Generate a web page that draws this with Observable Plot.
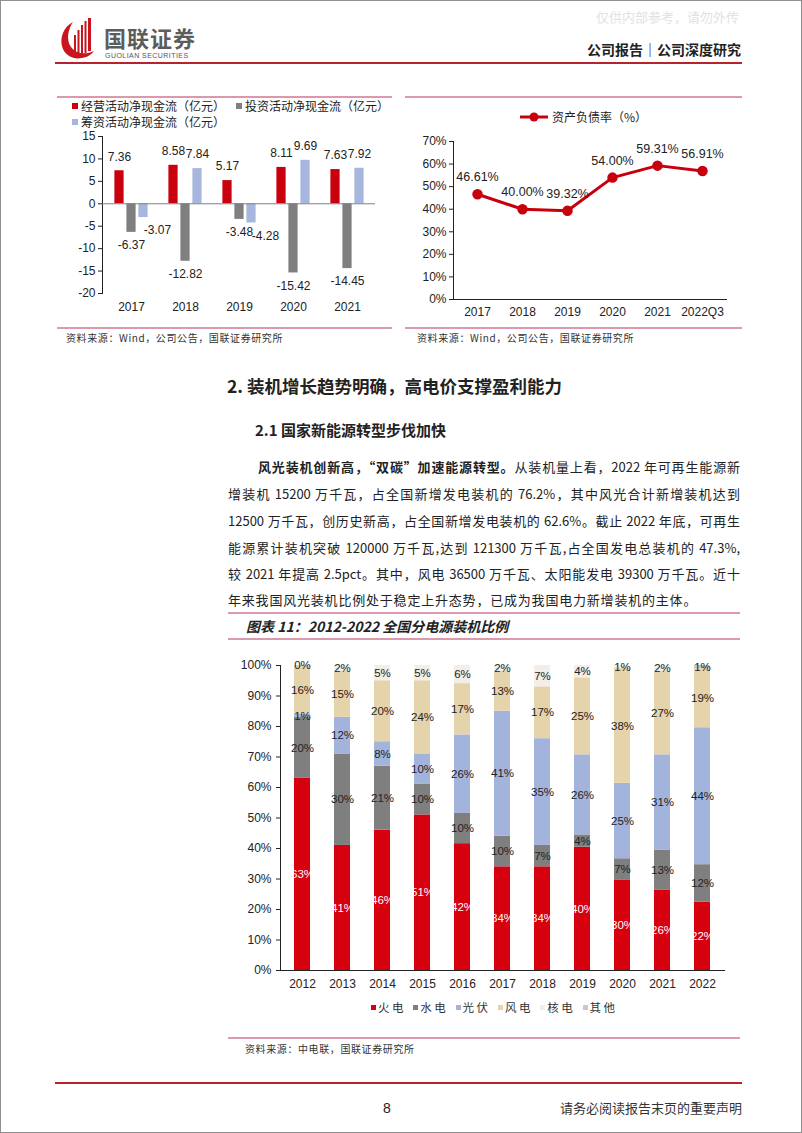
<!DOCTYPE html>
<html>
<head>
<meta charset="utf-8">
<script src="https://cdn.jsdelivr.net/npm/d3@7"></script>
<script src="https://cdn.jsdelivr.net/npm/@observablehq/plot@0.6"></script>
<style>
  html, body { margin: 0; padding: 0; background: #fff; }
  #page { position: relative; width: 802px; height: 1133px; overflow: hidden; font-family: "Noto Sans CJK SC", sans-serif; color: #222; }
  .abs { position: absolute; white-space: nowrap; line-height: 1; }
  .hline { position: absolute; height: 1.5px; }
  .pink { background: #dc98ad; }
  .red { background: #b8232b; height: 2px; }
  .src { font-size: 10px; color: #333; letter-spacing: 0.6px; }
  .para { position: absolute; font-size: 13px; line-height: 1; color: #222; text-align: justify; text-align-last: justify; }
  .leg { position: absolute; font-size: 12px; line-height: 1; display: flex; align-items: center; white-space: nowrap; color: #222; }
  .sw { display: inline-block; width: 6px; height: 6px; margin-right: 3px; }
  svg.plot { position: absolute; overflow: visible; }
</style>
</head>
<body>
<div id="page">
  <div style="position:absolute;left:0;top:0;width:800px;height:1131px;border:1px solid #8f8f8f;"></div>

  <div class="abs" style="left:596px;top:10px;font-size:13px;color:#e2e2e2;">仅供内部参考，请勿外传</div>

  <svg style="position:absolute;left:60px;top:18px;" width="36" height="42" viewBox="0 0 36 42">
    <path d="M13 4 C3 9 0 20 2 28 C4 37 13 42 22 40 C28 39 32 36 34 33 C26 37 16 36 11 29 C6 22 8 11 13 4Z" fill="#c8161e"/>
    <rect x="14" y="17" width="2" height="19" fill="#c8161e"/>
    <rect x="17.5" y="12" width="2" height="24" fill="#c8161e"/>
    <rect x="21" y="7" width="2" height="29" fill="#c8161e"/>
    <rect x="24.5" y="3" width="2" height="32" fill="#c8161e"/>
    <rect x="28" y="0" width="3" height="33" fill="#c8161e"/>
  </svg>
  <div class="abs" style="left:104px;top:26px;font-size:22px;font-weight:600;color:#5c5c5c;letter-spacing:1px;">国联证券</div>
  <div class="abs" style="left:105px;top:52px;font-size:7px;font-family:'Liberation Sans';color:#555;letter-spacing:0.45px;">GUOLIAN SECURITIES</div>
  <div class="abs" style="left:560px;width:181px;top:42px;text-align:right;font-size:14px;font-weight:700;color:#222;">公司报告｜公司深度研究</div>
  <div class="hline red" style="left:55px;top:62px;width:687px;"></div>

  <!-- top charts -->
  <div class="hline pink" style="left:57px;top:96px;width:335px;"></div>
  <div class="hline pink" style="left:405px;top:96px;width:337px;"></div>
  <div id="cfLegend"></div>
  <div id="drLegend"></div>
  <div id="cfChart"></div>
  <div id="drChart"></div>
  <div class="hline pink" style="left:57px;top:327px;width:335px;"></div>
  <div class="hline pink" style="left:405px;top:327px;width:337px;"></div>
  <div class="abs src" style="left:66px;top:333px;">资料来源：Wind，公司公告，国联证券研究所</div>
  <div class="abs src" style="left:417px;top:333px;">资料来源：Wind，公司公告，国联证券研究所</div>

  <!-- text -->
  <div class="abs" style="left:227px;top:377px;font-size:17.5px;font-weight:700;">2. 装机增长趋势明确，高电价支撑盈利能力</div>
  <div class="abs" style="left:255px;top:422px;font-size:15px;font-weight:700;">2.1 国家新能源转型步伐加快</div>
  <div class="para" style="left:258px;width:482px;top:460px;"><b>风光装机创新高，“双碳”加速能源转型。</b>从装机量上看，2022 年可再生能源新</div>
  <div class="para" style="left:228px;width:512px;top:487px;">增装机 15200 万千瓦，占全国新增发电装机的 76.2%，其中风光合计新增装机达到</div>
  <div class="para" style="left:228px;width:512px;top:514px;">12500 万千瓦，创历史新高，占全国新增发电装机的 62.6%。截止 2022 年底，可再生</div>
  <div class="para" style="left:228px;width:512px;top:541px;">能源累计装机突破 120000 万千瓦,达到 121300 万千瓦,占全国发电总装机的 47.3%,</div>
  <div class="para" style="left:228px;width:512px;top:567px;">较 2021 年提高 2.5pct。其中，风电 36500 万千瓦、太阳能发电 39300 万千瓦。近十</div>
  <div class="para" style="left:228px;top:593px;text-align:left;text-align-last:left;white-space:nowrap;letter-spacing:0.8px;">年来我国风光装机比例处于稳定上升态势，已成为我国电力新增装机的主体。</div>

  <!-- main chart -->
  <div class="hline pink" style="left:228px;top:612px;width:512px;"></div>
  <div class="abs" style="left:246px;top:619px;font-size:14px;font-weight:700;font-style:italic;">图表 11：2012-2022 全国分电源装机比例</div>
  <div class="hline pink" style="left:228px;top:638px;width:512px;"></div>
  <div id="mixChart"></div>
  <div id="mixLegend"></div>
  <div class="hline pink" style="left:228px;top:1037px;width:512px;"></div>
  <div class="abs src" style="left:245px;top:1044px;">资料来源：中电联，国联证券研究所</div>

  <div class="hline red" style="left:55px;top:1082px;width:687px;"></div>
  <div class="abs" style="left:383px;top:1101px;font-size:14px;font-family:'Liberation Sans';">8</div>
  <div class="abs" style="left:560px;width:181px;top:1101px;text-align:right;font-size:13px;color:#333;">请务必阅读报告末页的重要声明</div>
</div>

<script>
// ---------- Cash flow chart data ----------
const cfYears = ["2017", "2018", "2019", "2020", "2021"];
const cfSeries = ["经营活动净现金流（亿元）", "投资活动净现金流（亿元）", "筹资活动净现金流（亿元）"];
const cfOperating = [7.36, 8.58, 5.17, 8.11, 7.63];
const cfInvesting = [-6.37, -12.82, -3.48, -15.42, -14.45];
const cfFinancing = [-3.07, 7.84, -4.28, 9.69, 7.92];
const cfColors = ["#c9000d", "#7f7f7f", "#a6b6dc"];
const cfTicks = [-20, -15, -10, -5, 0, 5, 10, 15];

// ---------- Debt ratio chart data ----------
const drPeriods = ["2017", "2018", "2019", "2020", "2021", "2022Q3"];
const drValues = [46.61, 40.00, 39.32, 54.00, 59.31, 56.91];
const drSeries = "资产负债率（%）";
const drTicks = [0, 10, 20, 30, 40, 50, 60, 70];

// ---------- Capacity mix chart data ----------
const mixYears = ["2012", "2013", "2014", "2015", "2016", "2017", "2018", "2019", "2020", "2021", "2022"];
const mixSources = ["火电", "水电", "光伏", "风电", "核电", "其他"];
const mixThermal = [63, 41, 46, 51, 42, 34, 34, 40, 30, 26, 22];
const mixHydro   = [20, 30, 21, 10, 10, 10, 7, 4, 7, 13, 12];
const mixSolar   = [1, 12, 8, 10, 26, 41, 35, 26, 25, 31, 44];
const mixWind    = [16, 15, 20, 24, 17, 13, 17, 25, 38, 27, 19];
const mixNuclear = [0, 2, 5, 5, 6, 2, 7, 4, 1, 2, null];
const mixOther   = [null, null, null, null, null, null, null, null, null, null, 1];
const mixColors = ["#d7000f", "#7f7f7f", "#a3b4dc", "#e5d3ac", "#f3eee8", "#c8c8cc"];
const mixTicks = [0, 0.1, 0.2, 0.3, 0.4, 0.5, 0.6, 0.7, 0.8, 0.9, 1];

const numFont = "'Liberation Sans', Arial, sans-serif";

// ---------- Cash flow chart ----------
(function () {
  const sets = [cfOperating, cfInvesting, cfFinancing];
  const shifts = [-12, 0, 12];
  const negLabelShift = [0, 0, 14];
  const marks = [];
  sets.forEach((arr, k) => {
    const d = cfYears.map((year, i) => ({year, value: arr[i]}));
    marks.push(Plot.barY(d, {x: "year", y: "value", fill: cfColors[k], dx: shifts[k], insetLeft: 22.4, insetRight: 22.4}));
    marks.push(Plot.text(d, {filter: r => r.value >= 0, x: "year", y: "value", text: r => r.value.toFixed(2), dx: shifts[k], dy: -14, fontSize: 12}));
    marks.push(Plot.text(d, {filter: r => r.value < 0, x: "year", y: "value", text: r => r.value.toFixed(2), dx: shifts[k] + negLabelShift[k], dy: 13, fontSize: 12}));
  });
  marks.push(Plot.ruleY([0], {stroke: "#7f7f7f", strokeWidth: 1}));
  const chart = Plot.plot({
    width: 335, height: 190,
    marginLeft: 45, marginRight: 17, marginTop: 8, marginBottom: 25,
    style: {fontFamily: numFont, fontSize: "12px", color: "#222", background: "transparent"},
    x: {domain: cfYears, padding: 0, label: null, tickSize: 0, tickPadding: 9},
    y: {domain: [-20, 15], ticks: cfTicks, tickFormat: d => String(d), label: null, line: true, tickSize: 4, tickPadding: 3},
    marks
  });
  chart.classList.add("plot");
  chart.style.left = "57px"; chart.style.top = "128px";
  document.getElementById("cfChart").appendChild(chart);

  const leg = document.getElementById("cfLegend");
  const pos = [[72, 100], [236, 100], [72, 116]];
  cfSeries.forEach((s, k) => {
    const el = document.createElement("div");
    el.className = "leg";
    el.style.left = pos[k][0] + "px"; el.style.top = pos[k][1] + "px";
    el.innerHTML = `<span class="sw" style="background:${cfColors[k]}"></span>${s}`;
    leg.appendChild(el);
  });
})();

// ---------- Debt ratio chart ----------
(function () {
  const d = drPeriods.map((period, i) => ({period, value: drValues[i]}));
  const red = "#c8000d";
  const chart = Plot.plot({
    width: 338, height: 195,
    marginLeft: 51, marginRight: 14, marginTop: 13, marginBottom: 24,
    style: {fontFamily: numFont, fontSize: "12px", color: "#222", background: "transparent"},
    x: {type: "point", domain: drPeriods, padding: 0.5, label: null, tickSize: 0, tickPadding: 8, line: true},
    y: {domain: [0, 70], ticks: drTicks, tickFormat: v => v + "%", label: null, line: true, tickSize: 4, tickPadding: 3},
    marks: [
      Plot.line(d, {x: "period", y: "value", stroke: red, strokeWidth: 3}),
      Plot.dot(d, {x: "period", y: "value", r: 4.5, fill: red, stroke: red}),
      Plot.text(d, {x: "period", y: "value", text: r => r.value.toFixed(2) + "%", dy: -17, fontSize: 12.5})
    ]
  });
  chart.classList.add("plot");
  chart.style.left = "402px"; chart.style.top = "128px";
  document.getElementById("drChart").appendChild(chart);

  const leg = document.createElement("div");
  leg.className = "leg";
  leg.style.left = "519px"; leg.style.top = "111px";
  leg.innerHTML = `<svg width="30" height="10" style="margin-right:3px"><line x1="1" y1="5" x2="29" y2="5" stroke="${red}" stroke-width="3"/><circle cx="15" cy="5" r="4.5" fill="${red}"/></svg>${drSeries}`;
  document.getElementById("drLegend").appendChild(leg);
})();

// ---------- Capacity mix chart ----------
(function () {
  const cols = [mixThermal, mixHydro, mixSolar, mixWind, mixNuclear, mixOther];
  const data = mixSources.flatMap((source, k) =>
    mixYears.map((year, i) => ({year, source, label: cols[k][i], value: cols[k][i] ?? 0})));
  const stack = {offset: "normalize"};
  const chart = Plot.plot({
    width: 512, height: 345,
    marginLeft: 52, marginRight: 16, marginTop: 15, marginBottom: 25,
    style: {fontFamily: numFont, fontSize: "12px", color: "#222", background: "transparent"},
    x: {domain: mixYears, paddingInner: 0.6, paddingOuter: 0.28, label: null, tickSize: 0, tickPadding: 9, line: true},
    y: {domain: [0, 1], ticks: mixTicks, tickFormat: v => Math.round(v * 100) + "%", label: null, line: true, tickSize: 4, tickPadding: 5},
    color: {domain: mixSources, range: mixColors},
    marks: [
      Plot.barY(data, Plot.stackY(stack, {x: "year", y: "value", z: "source", fill: "source"})),
      Plot.text(data, Plot.stackY(stack, {x: "year", y: "value", z: "source",
        text: r => (r.source === "火电" && r.label != null) ? r.label + "%" : null, fill: "white", fontSize: 11.5})),
      Plot.text(data, Plot.stackY(stack, {x: "year", y: "value", z: "source",
        text: r => (r.source !== "火电" && r.label != null) ? r.label + "%" : null, fill: "#222", fontSize: 11.5}))
    ]
  });
  chart.classList.add("plot");
  chart.style.left = "228px"; chart.style.top = "650px";
  document.getElementById("mixChart").appendChild(chart);

  const leg = document.getElementById("mixLegend");
  mixSources.forEach((s, k) => {
    const el = document.createElement("div");
    el.className = "leg";
    el.style.left = (371 + k * 42.3) + "px"; el.style.top = "1002px";
    el.style.fontSize = "11.5px"; el.style.letterSpacing = "2.5px"; el.style.color = "#333";
    el.innerHTML = `<span class="sw" style="background:${mixColors[k]};width:5px;height:5px;margin-right:2px"></span>${s}`;
    leg.appendChild(el);
  });
})();
</script>
</body>
</html>
